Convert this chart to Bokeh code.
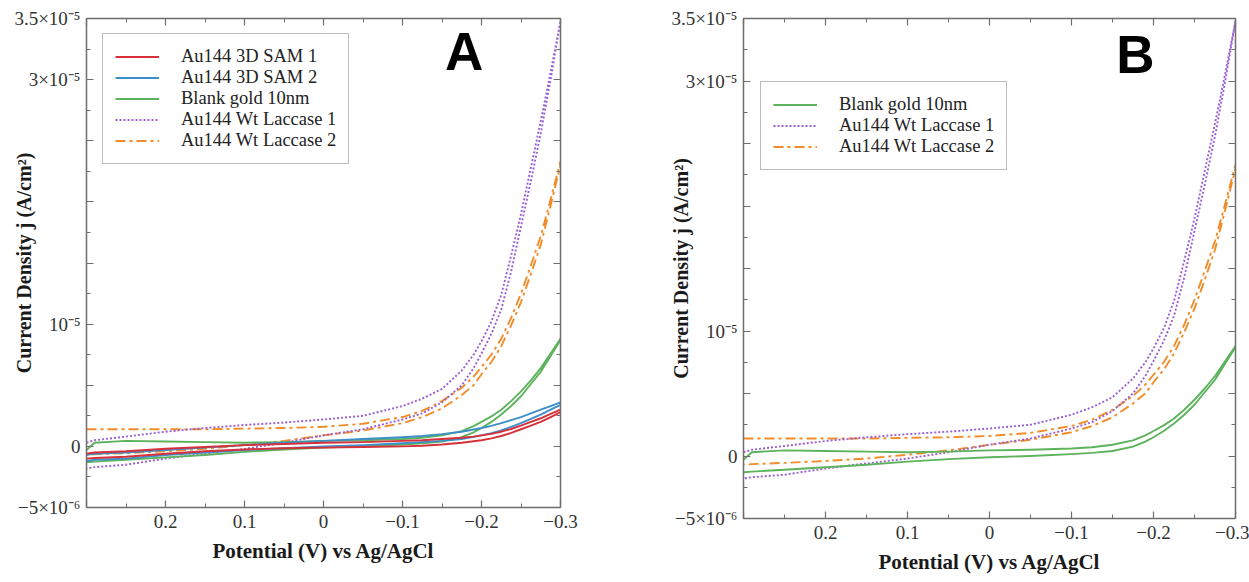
import numpy as np
from bokeh.plotting import figure
from bokeh.layouts import row
from bokeh.models import (LinearAxis, FixedTicker, Legend, LegendItem, Label, Range1d)
from bokeh.embed import file_html
from bokeh.resources import INLINE

# Potential (V vs Ag/AgCl), sweep grid
potential = [0.30, 0.29, 0.25, 0.20, 0.15, 0.10, 0.05, 0.00, -0.05, -0.10, -0.125, -0.15,
             -0.175, -0.19, -0.20, -0.2125, -0.225, -0.2375, -0.25, -0.2625, -0.275, -0.2875, -0.30]

# Current density in units of 1e-6 A/cm^2 (upper and lower branch of each CV loop)
sam1_upper = [-0.6, -0.5, -0.4, -0.2, -0.05, 0.1, 0.2, 0.3, 0.35, 0.45, 0.5, 0.6,
              0.7, 0.8, 0.9, 1.02, 1.2, 1.42, 1.7, 2.0, 2.3, 2.65, 3.0]
sam1_lower = [-1.0, -0.95, -0.85, -0.6, -0.4, -0.25, -0.15, -0.1, -0.05, 0.0, 0.05, 0.15,
              0.3, 0.42, 0.5, 0.65, 0.85, 1.1, 1.4, 1.7, 2.0, 2.4, 2.8]
sam2_upper = [-0.7, -0.6, -0.5, -0.3, -0.1, 0.1, 0.3, 0.45, 0.6, 0.75, 0.85, 1.0,
              1.2, 1.38, 1.5, 1.68, 1.9, 2.15, 2.4, 2.7, 3.0, 3.3, 3.6]
sam2_lower = [-1.2, -1.1, -1.0, -0.7, -0.5, -0.3, -0.15, 0.0, 0.1, 0.25, 0.35, 0.45,
              0.6, 0.78, 0.9, 1.08, 1.3, 1.6, 1.9, 2.25, 2.6, 3.0, 3.4]
blank_upper = [-0.3, 0.3, 0.45, 0.4, 0.35, 0.3, 0.35, 0.45, 0.5, 0.6, 0.7, 0.9,
               1.25, 1.65, 2.0, 2.45, 3.0, 3.7, 4.5, 5.4, 6.4, 7.6, 8.8]
blank_lower = [-1.3, -1.25, -1.1, -0.9, -0.7, -0.45, -0.25, -0.1, 0.0, 0.15, 0.25, 0.4,
               0.75, 1.15, 1.5, 2.0, 2.6, 3.3, 4.1, 5.1, 6.1, 7.4, 8.7]
lac1_upper = [0.3, 0.5, 0.8, 1.2, 1.5, 1.75, 1.95, 2.2, 2.5, 3.3, 3.9, 4.7,
              6.2, 7.5, 8.6, 10.2, 12.4, 15.6, 19.0, 22.8, 26.6, 30.6, 34.8]
lac1_lower = [-1.8, -1.7, -1.5, -1.0, -0.6, -0.2, 0.3, 0.9, 1.4, 2.2, 2.7, 3.6,
              5.0, 6.4, 7.6, 9.2, 11.2, 14.3, 18.0, 21.7, 25.6, 30.0, 34.8]
lac2_upper = [1.4, 1.4, 1.4, 1.4, 1.4, 1.45, 1.5, 1.6, 1.85, 2.4, 2.9, 3.7,
              4.8, 5.7, 6.5, 7.5, 8.8, 10.5, 12.5, 14.8, 17.2, 20.2, 23.3]
lac2_lower = [-0.7, -0.65, -0.55, -0.4, -0.2, 0.1, 0.45, 0.9, 1.3, 1.9, 2.4, 3.1,
              4.2, 5.0, 5.9, 6.9, 8.2, 9.9, 11.8, 14.1, 16.5, 19.7, 23.0]

series_names = ["Au144 3D SAM 1", "Au144 3D SAM 2", "Blank gold 10nm",
                "Au144 Wt Laccase 1", "Au144 Wt Laccase 2"]

x_tick_values = [0.3, 0.2, 0.1, 0.0, -0.1, -0.2, -0.3]
x_tick_labels = ["", "0.2", "0.1", "0", "\u22120.1", "\u22120.2", "\u22120.3"]
x_minor_values = [0.25, 0.15, 0.05, -0.05, -0.15, -0.25]
y_tick_values = [-5, 0, 5, 10, 15, 20, 25, 30, 35]
y_tick_labels = ["\u22125\u00d710\u207b\u2076", "0", "", "10\u207b\u2075", "", "", "",
                 "3\u00d710\u207b\u2075", "3.5\u00d710\u207b\u2075"]
y_minor_values = [-2.5, 2.5, 7.5, 12.5, 17.5, 22.5, 27.5, 32.5]

SERIF = "Liberation Serif"
AXCOL = "#6e6e6e"

styles = {
    "Au144 3D SAM 1": dict(color="#d6303a", dash="solid", width=1.9),
    "Au144 3D SAM 2": dict(color="#3d8fca", dash="solid", width=1.9),
    "Blank gold 10nm": dict(color="#5cb35c", dash="solid", width=1.9),
    "Au144 Wt Laccase 1": dict(color="#9a5fd2", dash="2 2", width=1.9),
    "Au144 Wt Laccase 2": dict(color="#f28c28", dash="10 4 3 4", width=1.9),
}

loops = {
    "Au144 3D SAM 1": (sam1_upper, sam1_lower),
    "Au144 3D SAM 2": (sam2_upper, sam2_lower),
    "Blank gold 10nm": (blank_upper, blank_lower),
    "Au144 Wt Laccase 1": (lac1_upper, lac1_lower),
    "Au144 Wt Laccase 2": (lac2_upper, lac2_lower),
}


def style_axis(ax, show_labels):
    ax.axis_line_color = AXCOL
    ax.axis_line_width = 1.5
    ax.major_tick_line_color = AXCOL
    ax.minor_tick_line_color = AXCOL
    ax.major_tick_line_width = 1.2
    ax.minor_tick_line_width = 1.0
    ax.major_tick_in = 7
    ax.major_tick_out = 0
    ax.minor_tick_in = 4
    ax.minor_tick_out = 0
    ax.major_label_text_font = SERIF
    ax.major_label_text_font_size = "19px"
    ax.major_label_text_color = "#333333"
    ax.axis_label_text_font = SERIF
    ax.axis_label_text_font_style = "bold"
    ax.axis_label_text_color = "#1a1a1a"
    if not show_labels:
        ax.major_label_text_font_size = "1px"
        ax.major_label_text_alpha = 0
        ax.major_label_text_color = None
        ax.major_label_standoff = 0


def make_panel(names, width, height, bl, br, bb, letter, letter_y, legend_loc, ylab_standoff):
    p = figure(width=width, height=height, x_range=Range1d(0.3, -0.3), y_range=Range1d(-5, 35),
               output_backend="svg", toolbar_location=None,
               x_axis_location=None, y_axis_location=None,
               min_border_left=bl, min_border_right=br, min_border_top=18, min_border_bottom=bb)
    p.outline_line_color = None
    p.xgrid.visible = False
    p.ygrid.visible = False
    p.background_fill_color = "white"
    p.border_fill_color = "white"

    xt = FixedTicker(ticks=x_tick_values, minor_ticks=x_minor_values)
    yt = FixedTicker(ticks=y_tick_values, minor_ticks=y_minor_values)

    xb = LinearAxis(ticker=xt, axis_label="Potential (V) vs Ag/AgCl")
    xb.major_label_overrides = dict(zip(x_tick_values, x_tick_labels))
    style_axis(xb, True)
    xb.axis_label_text_font_size = "21px"
    xb.major_label_standoff = 7
    xb.axis_label_standoff = 8
    p.add_layout(xb, "below")

    yl = LinearAxis(ticker=yt, axis_label="Current Density j (A/cm\u00b2)")
    yl.major_label_overrides = dict(zip(y_tick_values, y_tick_labels))
    style_axis(yl, True)
    yl.axis_label_text_font_size = "20px"
    yl.major_label_standoff = 6
    yl.axis_label_standoff = ylab_standoff
    p.add_layout(yl, "left")

    xa = LinearAxis(ticker=xt)
    style_axis(xa, False)
    p.add_layout(xa, "above")
    yr = LinearAxis(ticker=yt)
    style_axis(yr, False)
    p.add_layout(yr, "right")

    renderers = {}
    for name in reversed(names):
        up, lo = loops[name]
        xs = list(potential) + list(potential[::-1])
        ys = list(up) + list(lo[::-1])
        st = styles[name]
        r = p.line(xs, ys, line_color=st["color"], line_width=st["width"],
                   line_dash=st["dash"], line_join="round")
        renderers[name] = r

    items = [LegendItem(label=n, renderers=[renderers[n]]) for n in names]
    leg = Legend(items=items, location=legend_loc, margin=0, padding=12, spacing=-1,
                 glyph_width=44, glyph_height=19, label_height=19, label_standoff=22,
                 label_text_font=SERIF, label_text_font_size="18.5px", label_text_color="#222222",
                 border_line_color="#7a7a7a", border_line_width=1.5,
                 background_fill_color="white", background_fill_alpha=1.0)
    p.add_layout(leg, "center")

    p.add_layout(Label(x=-0.178, y=letter_y, text=letter, text_font="Liberation Sans",
                       text_font_style="bold", text_font_size="53px", text_color="black",
                       text_align="center", text_baseline="alphabetic"))
    return p


pA = make_panel(series_names, 620, 571, 86, 60, 64, "A", 32.3, (16, 343), -24)
pB = make_panel(series_names[2:], 629, 582, 123, 14, 64, "B", 32.1, (17, 348), -24)

layout = row(pA, pB)
open("out.html", "w").write(file_html(layout, INLINE))
